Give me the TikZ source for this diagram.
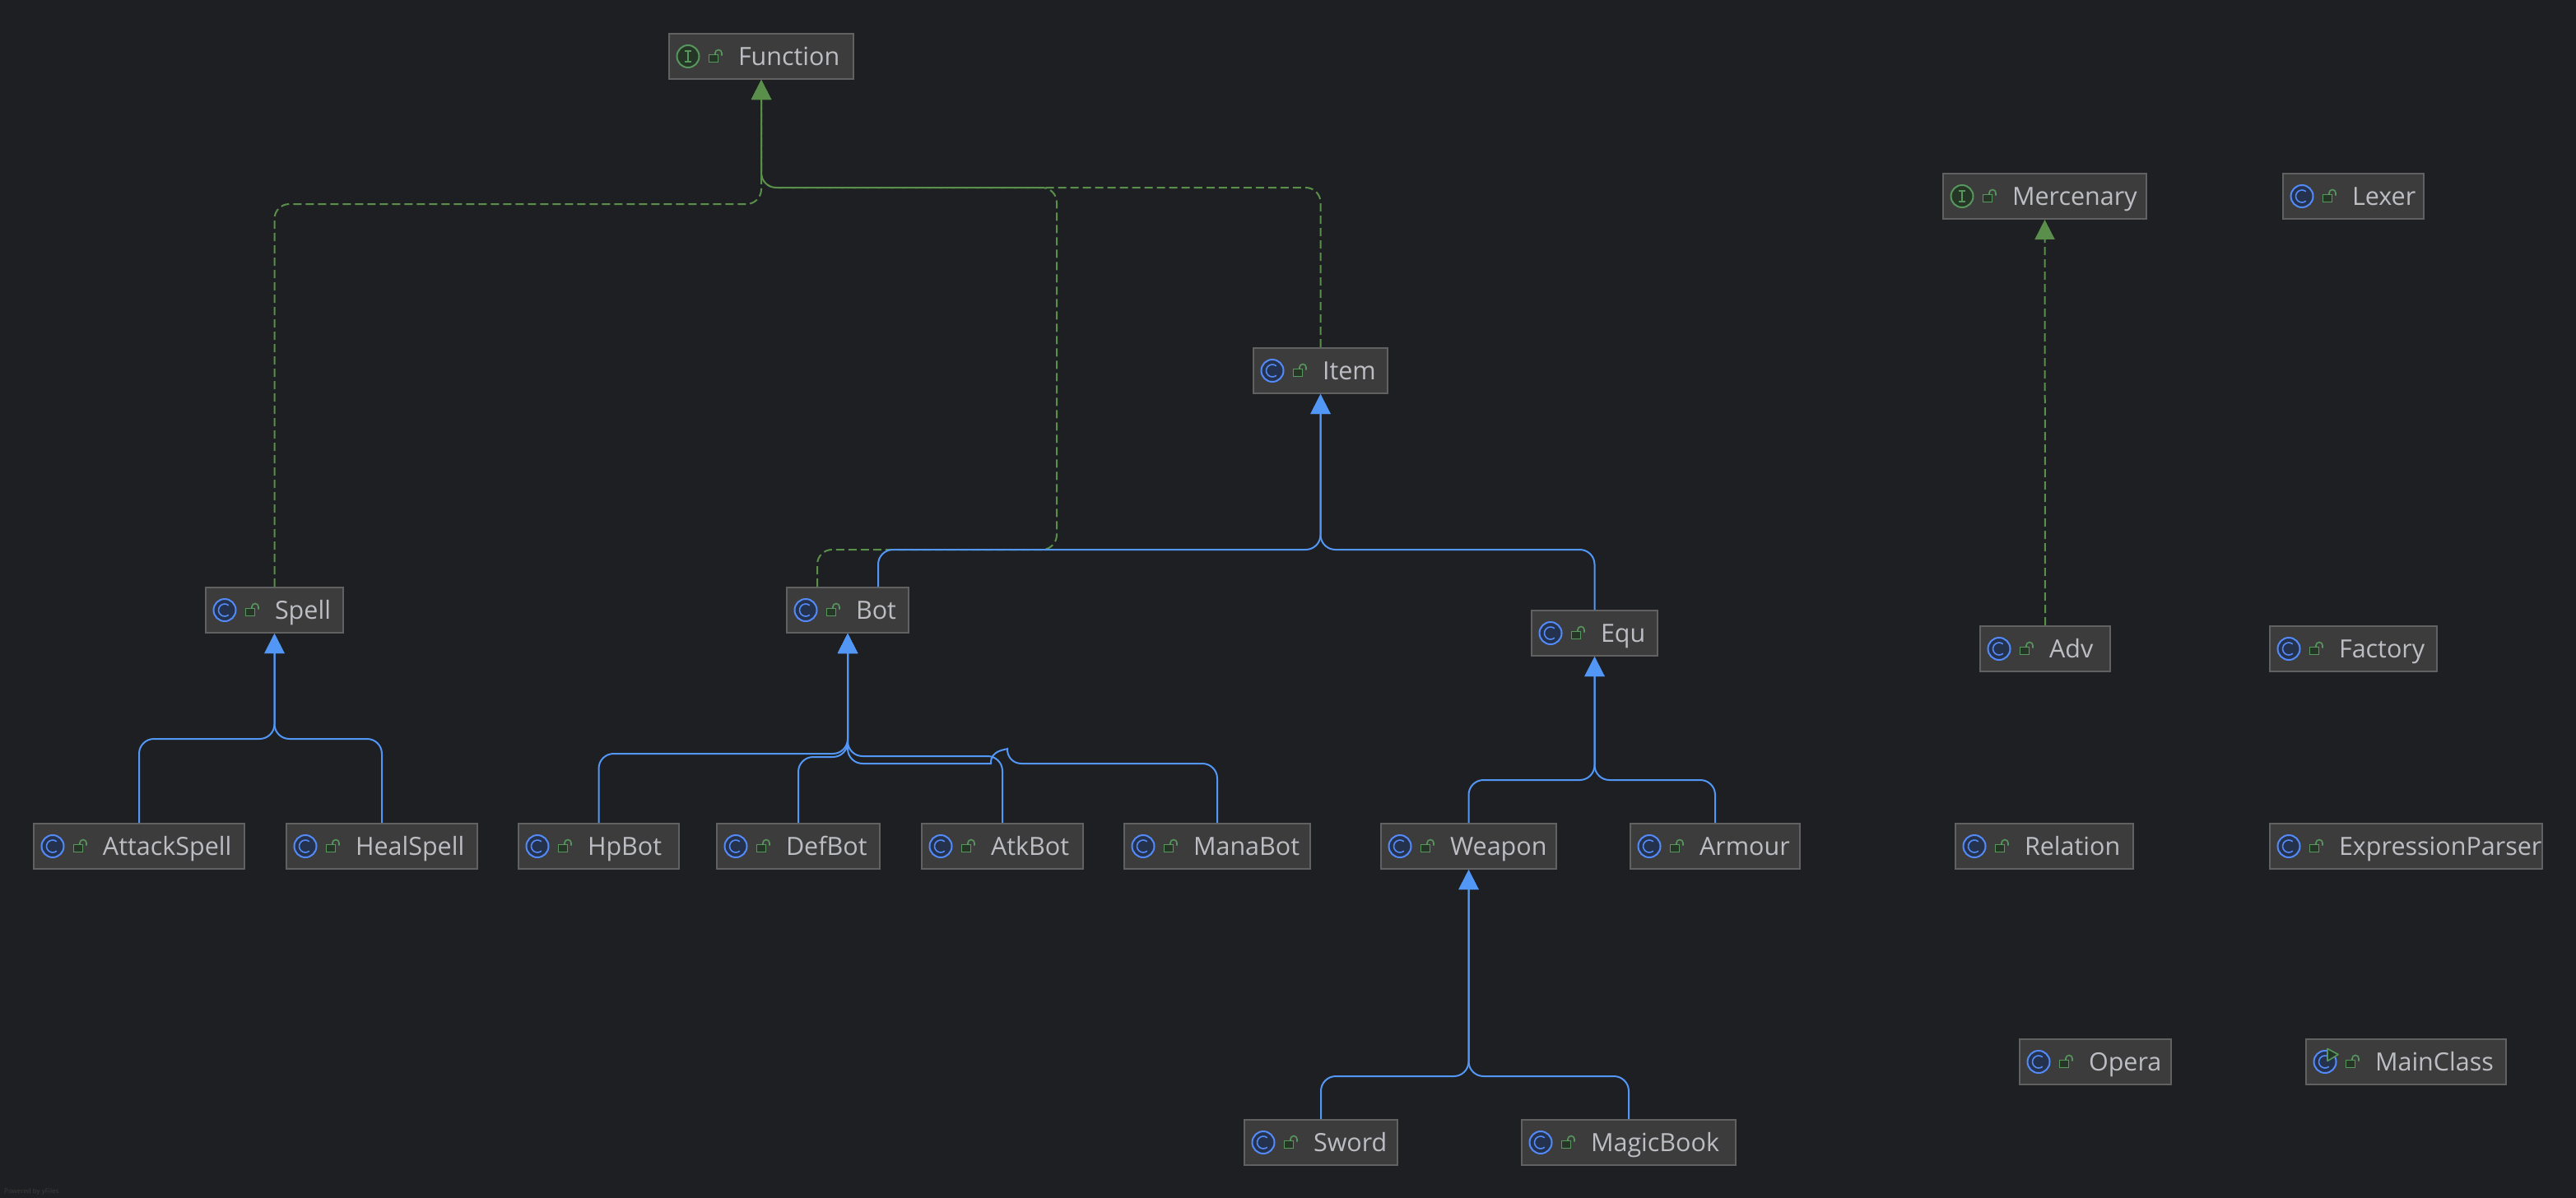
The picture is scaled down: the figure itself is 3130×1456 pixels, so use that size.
\documentclass[tikz,border=0pt]{standalone}
\usepackage{fontspec}
\setmainfont{Open Sans}
\usetikzlibrary{positioning,arrows.meta}
\definecolor{canvasbg}{HTML}{1E1F22}
\definecolor{boxfill}{HTML}{3C3C3C}
\definecolor{boxline}{HTML}{616161}
\definecolor{boxtext}{HTML}{BCBEC4}
\definecolor{extblue}{HTML}{5297F5}
\definecolor{implgreen}{HTML}{5A8F4B}
\definecolor{ringblue}{HTML}{548AF7}
\definecolor{ringbluefill}{HTML}{25324D}
\definecolor{ringgreen}{HTML}{57965C}
\definecolor{ringgreenfill}{HTML}{253627}
\tikzset{
  classbox/.style={draw=boxline,fill=boxfill,line width=1.5pt,anchor=north west,inner sep=0pt,outer sep=1pt,
    minimum height=55pt,text height=38pt,text depth=17pt,text=boxtext,font=\fontsize{30.5}{36}\selectfont},
  extends/.style={draw=extblue,line width=2pt,rounded corners=18pt,-{Triangle[width=24pt,length=24pt]}},
  implements/.style={draw=implgreen,line width=2pt,rounded corners=18pt,dash pattern=on 10pt off 5pt,-{Triangle[width=24pt,length=24pt]}},
}
\newcommand{\classnode}[4]{%
  \node[classbox,minimum width=#4 pt] (#1) at (#2,#3) {\makebox[#4pt][l]{\hspace*{84pt}#1}};
  \begin{scope}[shift={(#1.west)},x=1pt,y=1pt,line width=1.6pt]
    \draw[ringgreen,fill=ringgreenfill] (49.5,-7) rectangle (60.5,2);
    \draw[ringgreen] (57,2) -- (57,4) arc [start angle=180,end angle=0,radius=4] -- (65,1);
  \end{scope}
}
\newcommand{\classmark}[1]{%
  \begin{scope}[shift={(#1.west)},x=1pt,y=1pt]
    \draw[ringblue,fill=ringbluefill,line width=2pt] (24,0) circle [radius=13.5];
    \draw[ringblue,line width=1.6pt] (24,0) ++(50:7.5) arc [start angle=50,end angle=310,radius=7.5];
  \end{scope}
}
\newcommand{\ifacemark}[1]{%
  \begin{scope}[shift={(#1.west)},x=1pt,y=1pt]
    \draw[ringgreen,fill=ringgreenfill,line width=2pt] (24,0) circle [radius=13.5];
    \draw[ringgreen,line width=1.6pt] (20,6.5) -- (28,6.5) (24,6.5) -- (24,-6.5) (20,-6.5) -- (28,-6.5);
  \end{scope}
}
\begin{document}
\begin{tikzpicture}[x=1pt,y=-1pt]
  \useasboundingbox (0,0) rectangle (3130,1456);
  \fill[canvasbg] (0,0) rectangle (3130,1456);
  % top row
  \classnode{Function}{812}{40}{224}
  \classnode{Mercenary}{2360}{210}{247}
  \classnode{Lexer}{2773}{210}{171}
  \classnode{Item}{1522}{422}{163}
  % middle
  \classnode{Spell}{249}{713}{167}
  \classnode{Bot}{955}{713}{148}
  \classnode{Equ}{1860}{741}{153}
  \classnode{Adv}{2405}{760}{158}
  \classnode{Factory}{2757}{760}{203}
  % row of subclasses
  \classnode{AttackSpell}{40}{1000}{256}
  \classnode{HealSpell}{347}{1000}{232}
  \classnode{HpBot}{629}{1000}{195}
  \classnode{DefBot}{870}{1000}{198}
  \classnode{AtkBot}{1119}{1000}{196}
  \classnode{ManaBot}{1365}{1000}{226}
  \classnode{Weapon}{1677}{1000}{213}
  \classnode{Armour}{1980}{1000}{206}
  \classnode{Relation}{2375}{1000}{216}
  \classnode{ExpressionParser}{2757}{1000}{331}
  % bottom
  \classnode{Opera}{2453}{1262}{184}
  \classnode{MainClass}{2801}{1262}{243}
  \classnode{Sword}{1511}{1360}{186}
  \classnode{MagicBook}{1848}{1360}{260}

  \ifacemark{Function}
  \ifacemark{Mercenary}
  \classmark{Lexer}
  \classmark{Item}
  \classmark{Spell}
  \classmark{Bot}
  \classmark{Equ}
  \classmark{Adv}
  \classmark{Factory}
  \classmark{AttackSpell}
  \classmark{HealSpell}
  \classmark{HpBot}
  \classmark{DefBot}
  \classmark{AtkBot}
  \classmark{ManaBot}
  \classmark{Weapon}
  \classmark{Armour}
  \classmark{Relation}
  \classmark{ExpressionParser}
  \classmark{Opera}
  \classmark{MainClass}
  \classmark{Sword}
  \classmark{MagicBook}
  % run badge
  \draw[ringgreen,fill=ringgreenfill,line width=1.6pt,line join=round] ([shift={(27pt,16pt)}]MainClass.west) -- ([shift={(40pt,9pt)}]MainClass.west) -- ([shift={(27pt,1pt)}]MainClass.west) -- cycle;

  % implements
  \draw[implements] (Spell.north) |- (Function.south |- 0,248) -- (Function.south);
  \draw[implements] (Item.north) |- (Function.south |- 0,228) -- (Function.south);
  \draw[implements] ([xshift=-37pt]Bot.north) |- (1284,668) -- (1284,228) -- (Function.south |- 0,228) -- (Function.south);
  \draw[implements] (Adv.north) -- (Mercenary.south);

  % extends
  \draw[extends] (AttackSpell.north) |- (Spell.south |- 0,898) -- (Spell.south);
  \draw[extends] (HealSpell.north) |- (Spell.south |- 0,898) -- (Spell.south);
  \draw[extends] ([xshift=37pt]Bot.north) |- (Item.south |- 0,668) -- (Item.south);
  \draw[extends] (Equ.north) |- (Item.south |- 0,668) -- (Item.south);
  \draw[extends] (HpBot.north) |- (Bot.south |- 0,916) -- (Bot.south);
  \draw[extends] (DefBot.north) |- (Bot.south |- 0,920) -- (Bot.south);
  \draw[extends] (AtkBot.north) |- (Bot.south |- 0,919) -- (Bot.south);
  \draw[extends] (ManaBot.north) |- (1223,928) [sharp corners] .. controls (1224,911) and (1203,911) .. (1204,928) [rounded corners=18pt] -- (Bot.south |- 0,928) -- (Bot.south);
  \draw[extends] (Weapon.north) |- (Equ.south |- 0,948) -- (Equ.south);
  \draw[extends] (Armour.north) |- (Equ.south |- 0,948) -- (Equ.south);
  \draw[extends] (Sword.north) |- (Weapon.south |- 0,1308) -- (Weapon.south);
  \draw[extends] (MagicBook.north) |- (Weapon.south |- 0,1308) -- (Weapon.south);

  \node[anchor=base west,inner sep=0pt,text=boxfill,font=\fontsize{8}{9}\selectfont] (powered) at (5,1450) {Powered by yFiles};
\end{tikzpicture}
\end{document}
